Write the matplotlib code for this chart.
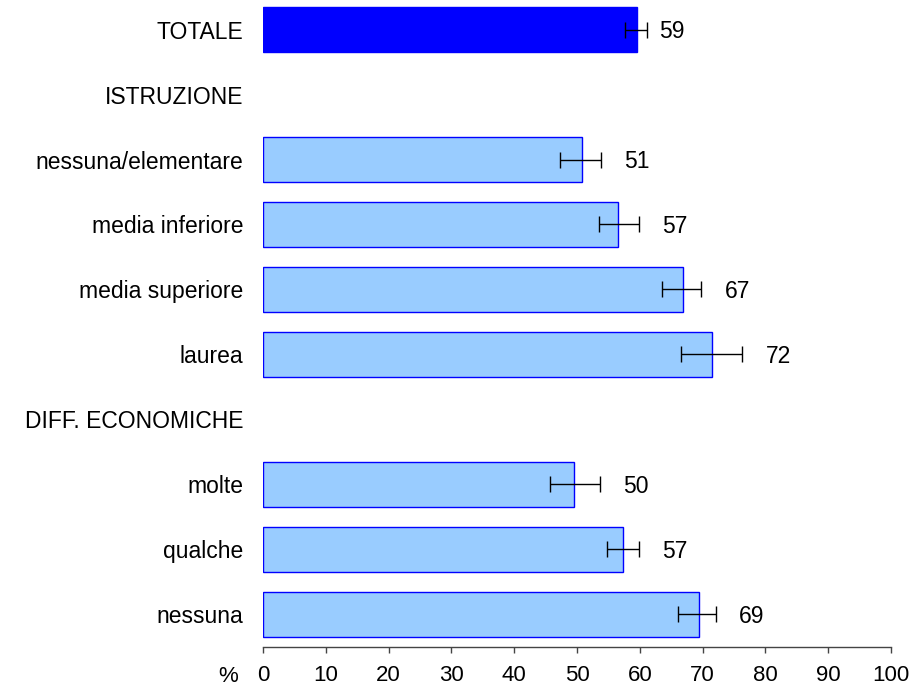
import numpy as np
import matplotlib
matplotlib.use("Agg")
import matplotlib.pyplot as plt

plt.rcParams['font.family'] = ['Liberation Sans', 'DejaVu Sans']

# rows from top to bottom; headers have no bar
rows = ["TOTALE", "ISTRUZIONE", "nessuna/elementare", "media inferiore",
        "media superiore", "laurea", "DIFF. ECONOMICHE", "molte", "qualche",
        "nessuna"]
values = [59.5, np.nan, 50.8, 56.5, 66.9, 71.5, np.nan, 49.6, 57.4, 69.5]
ci_low = [57.7, np.nan, 47.3, 53.5, 63.6, 66.5, np.nan, 45.7, 54.7, 66.1]
ci_high = [61.1, np.nan, 53.8, 59.8, 69.8, 76.3, np.nan, 53.6, 59.8, 72.1]
shown = ["59", "", "51", "57", "67", "72", "", "50", "57", "69"]

fig = plt.figure(figsize=(9.15, 6.9), dpi=100)
ax = fig.add_axes([263 / 915, 1 - 647.3 / 690, (891 - 263) / 915, 647.3 / 690])

y = np.arange(len(rows))
vals = np.array(values)
lo = np.array(ci_low)
hi = np.array(ci_high)
colors = ['#0000FF' if r == "TOTALE" else '#99CCFF' for r in rows]

mask = ~np.isnan(vals)
ax.barh(y[mask], vals[mask], height=0.69, color=np.array(colors)[mask],
        edgecolor='#0000FF', linewidth=1.0)
ax.errorbar((lo[mask] + hi[mask]) / 2, y[mask], xerr=(hi[mask] - lo[mask]) / 2,
            fmt='none', ecolor='black', elinewidth=1.0, capsize=5.5, capthick=1.0)

for yi, h, s in zip(y, hi, shown):
    if s:
        off = 2.0 if yi == 0 else 3.7
        ax.text(h + off, yi + 0.03, s, va='center', ha='left', fontsize=16.5)

ax.set_xlim(0, 100)
ax.set_ylim(9.505, -0.454)
ax.set_xticks(np.arange(0, 101, 10))
ax.set_yticks(y)
ax.set_yticklabels(rows, fontsize=16.5)
ax.tick_params(axis='y', length=0, pad=14)
ax.tick_params(axis='x', direction='out', length=4.3, width=1.0, color='#444444',
               labelsize=16, pad=8.5)
for sp in ['left', 'top', 'right']:
    ax.spines[sp].set_visible(False)
ax.spines['bottom'].set_color('#444444')
ax.spines['bottom'].set_linewidth(1.0)

fig.text(228 / 915, 1 - 677 / 690, "%", ha='center', va='center', fontsize=16)

fig.savefig("out.png", dpi=100)
